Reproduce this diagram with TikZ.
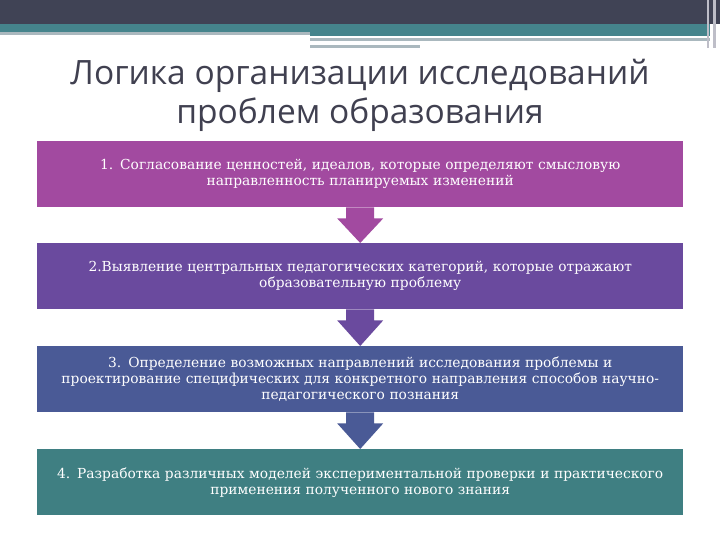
\documentclass[tikz,border=0pt]{standalone}
\usepackage{fontspec}
\setmainfont{DejaVu Serif}
\newfontfamily\titlefont{Open Sans}
\begin{document}
\begin{tikzpicture}[x=1pt,y=-1pt,
  stepbox/.style={minimum width=646pt,minimum height=66pt,anchor=north west,inner sep=0pt,text=white,align=center,font=\fontsize{13.8}{16}\selectfont,text width=640pt}]
\useasboundingbox (0,0) rectangle (720,540);
\fill[white] (0,0) rectangle (720,540);
\fill[fill={rgb,255:red,64;green,67;blue,85}] (0,0) rectangle (720,24);
\fill[fill={rgb,255:red,69;green,132;blue,140}] (0,24) rectangle (710,32);
\fill[fill={rgb,255:red,69;green,132;blue,140}] (310,32) rectangle (710,36);
\fill[fill={rgb,255:red,170;green,184;blue,190}] (0,32) rectangle (310,35);
\fill[fill={rgb,255:red,170;green,184;blue,190}] (310,38) rectangle (710,41);
\fill[fill={rgb,255:red,170;green,184;blue,190}] (310,45) rectangle (420,48);
\fill[fill={rgb,255:red,190;green,190;blue,200}] (707,0) rectangle (709,48);
\fill[fill={rgb,255:red,190;green,190;blue,200}] (713,0) rectangle (716,48);
\node[font=\titlefont\fontsize{33.5}{39}\selectfont,text={rgb,255:red,64;green,64;blue,80},align=center] (title) at (360,95) {Логика организации исследований\\проблем образования};
\definecolor{c1}{RGB}{162,74,160}
\definecolor{c2}{RGB}{106,74,158}
\definecolor{c3}{RGB}{74,90,150}
\definecolor{c4}{RGB}{63,127,130}
\node[stepbox,fill=c1] (b1) at (37,141) {1. Согласование ценностей, идеалов, которые определяют смысловую\\направленность планируемых изменений};
\node[stepbox,fill=c2] (b2) at (37,243) {2.Выявление центральных педагогических категорий, которые отражают\\образовательную проблему};
\node[stepbox,fill=c3] (b3) at (37,346) {3. Определение возможных направлений исследования проблемы и\\проектирование специфических для конкретного направления способов научно-\\педагогического познания};
\node[stepbox,fill=c4] (b4) at (37,449) {4. Разработка различных моделей экспериментальной проверки и практического\\применения полученного нового знания};
\foreach \a/\b/\c in {b1/b2/c1,b2/b3/c2,b3/b4/c3}{
  \fill[\c] ([xshift=-14pt]\a.south) -- ([xshift=-14pt,yshift=-11pt]\a.south) -- ([xshift=-23pt,yshift=-11pt]\a.south) -- (\b.north) -- ([xshift=23pt,yshift=-11pt]\a.south) -- ([xshift=14pt,yshift=-11pt]\a.south) -- ([xshift=14pt]\a.south) -- cycle;
}
\end{tikzpicture}
\end{document}
